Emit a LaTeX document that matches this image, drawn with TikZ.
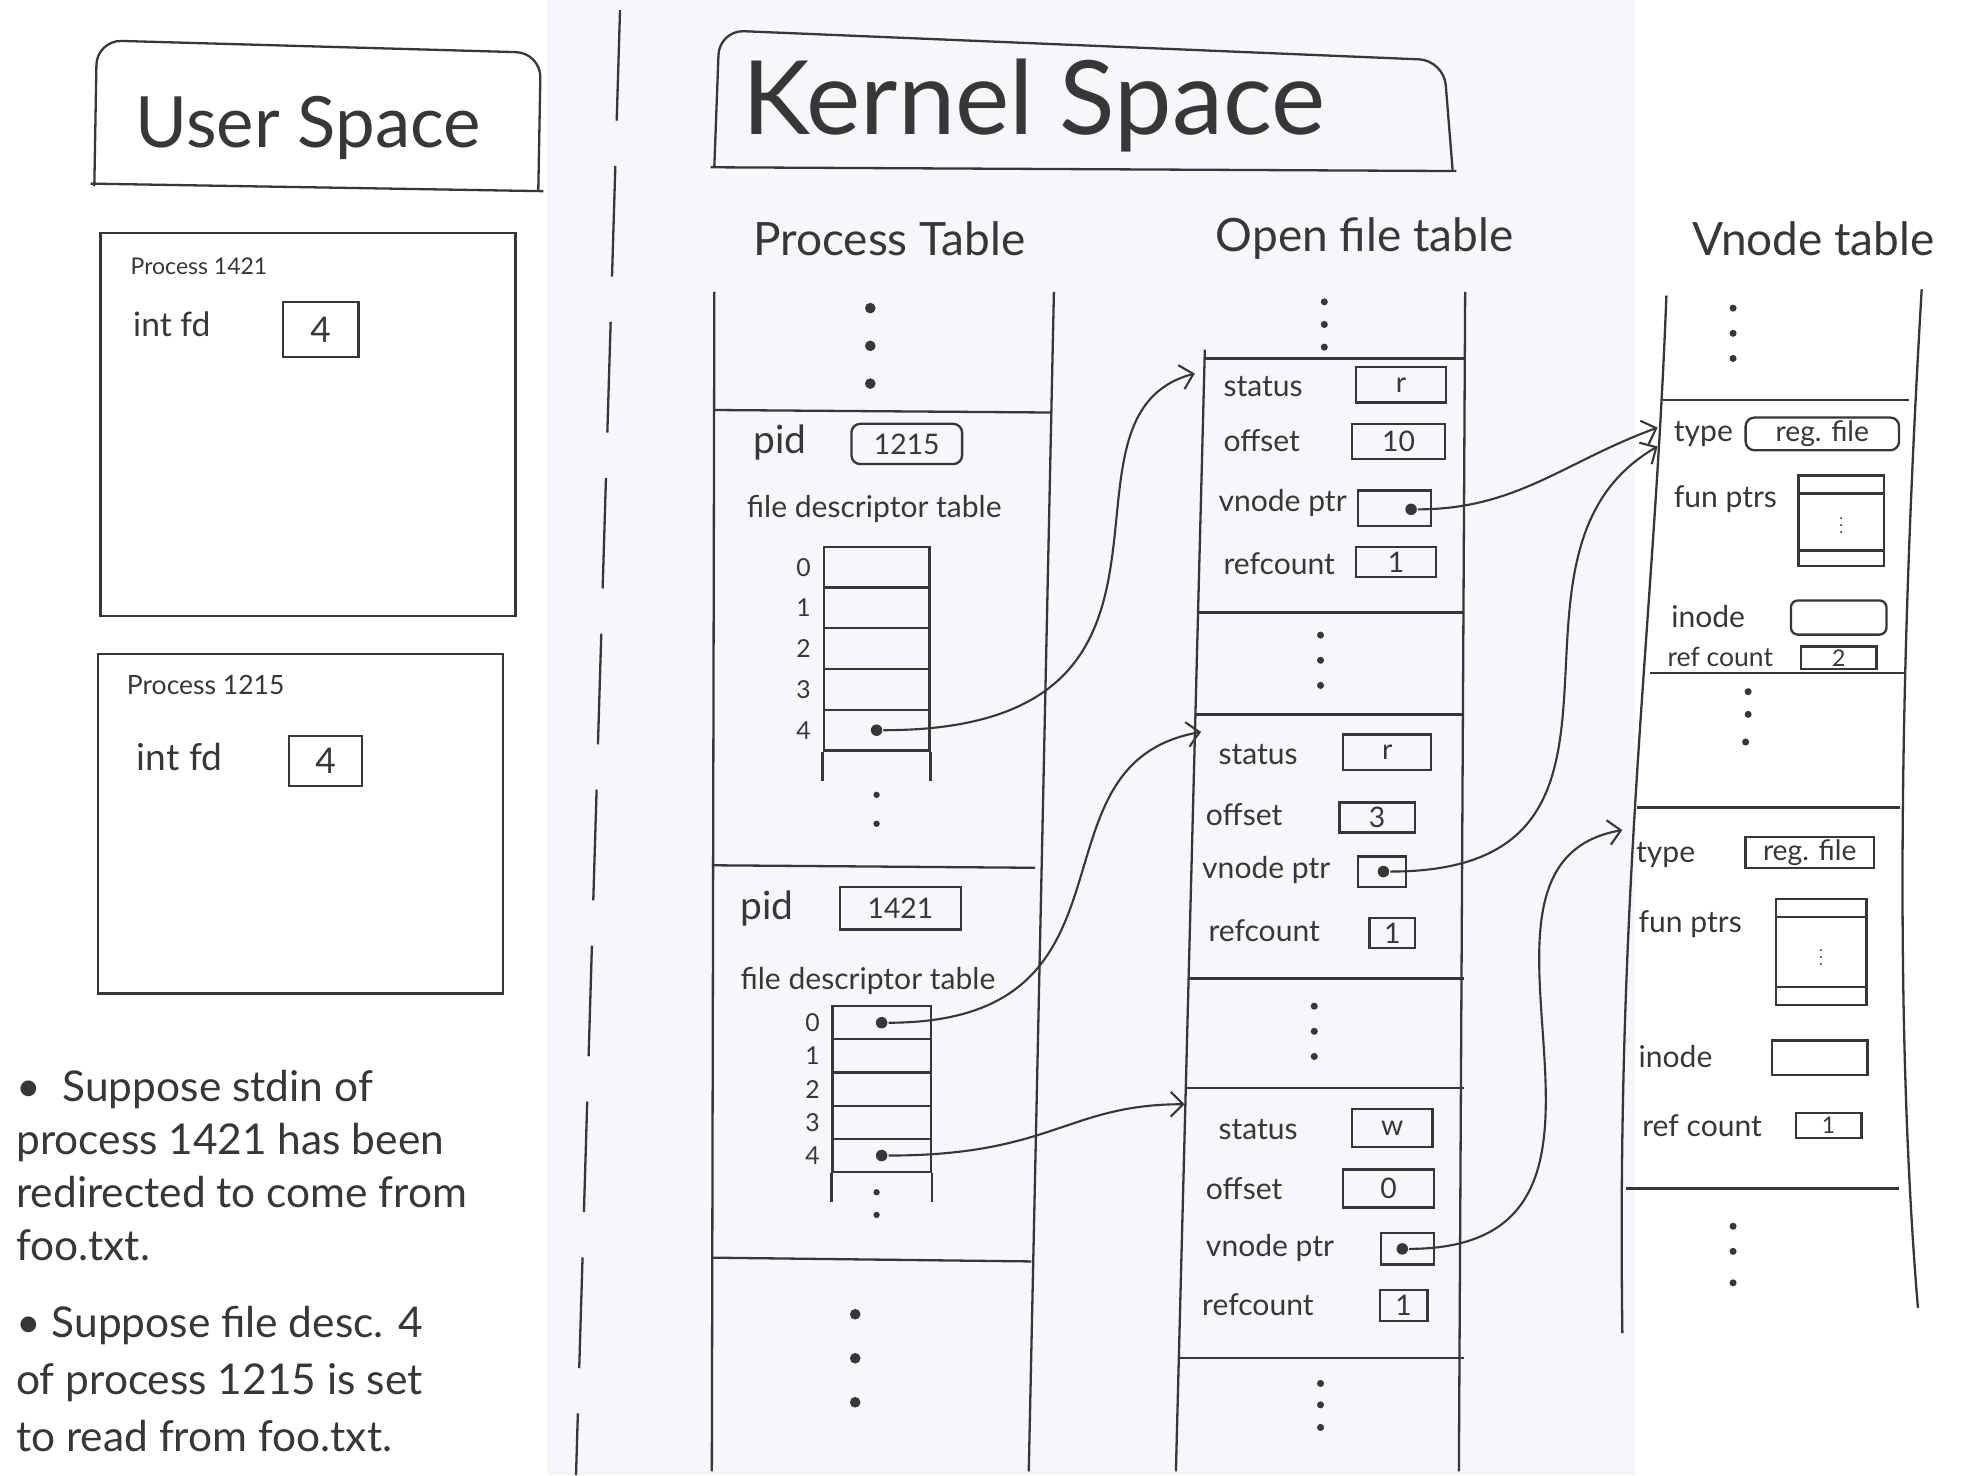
\documentclass[tikz,border=0pt]{standalone}
\usepackage{fontspec}
\setmainfont{Lato}
\usetikzlibrary{positioning,arrows.meta}
\definecolor{ink}{RGB}{55,55,55}
\definecolor{paper}{RGB}{246,247,250}

\begin{document}
\begin{tikzpicture}[x=0.025cm, y=-0.025cm, line width=1.3pt, color=ink,
  >={Straight Barb[length=7pt,width=14pt]},
  lbl/.style={anchor=west, inner sep=0pt, font=\fontsize{17}{20}\selectfont},
  valbox/.style={draw, inner sep=0pt, minimum height=0.7cm, font=\fontsize{16}{18}\selectfont},
  cell/.style={draw, inner sep=0pt},
  dot/.style={circle, fill=ink, inner sep=0pt, minimum size=6.5pt},
  head/.style={font=\fontsize{26}{30}\selectfont},
  title/.style={font=\fontsize{40}{44}\selectfont},
  link/.style={->, line width=1.2pt}]
% Page
\useasboundingbox (0,0) rectangle (1568,1173);
\fill[white] (0,0) rectangle (1568,1173);
\fill[paper] (435,0) rectangle (1300,1173);

% User space
\draw[rounded corners=14pt] (75,148) -- (77,32) -- (430,42) -- (428,152);
\draw (72,146) -- (432,152);
\node[title] (user) at (245,102) {User Space};

\draw (80,185) rectangle (410,490);
\node[lbl, font=\fontsize{13}{15}\selectfont] (u1421) at (103,212) {Process 1421};
\node[lbl, font=\fontsize{19}{22}\selectfont] (u1421fd) at (105,258) {int fd};
\node[valbox, minimum width=1.5cm, minimum height=1.1cm, font=\fontsize{20}{22}\selectfont] (u1421val) at (255,262) {4};

\draw (78,520) rectangle (400,790);
\node[lbl, font=\fontsize{15}{17}\selectfont] (u1215) at (100,545) {Process 1215};
\node[lbl, font=\fontsize{21}{24}\selectfont] (u1215fd) at (108,602) {int fd};
\node[valbox, minimum width=1.45cm, minimum height=1cm, font=\fontsize{20}{22}\selectfont] (u1215val) at (259,605) {4};

% Notes
\node[lbl, anchor=north west, align=left, font=\fontsize{24}{30}\selectfont] (note1) at (12,850)
  {\textbullet\ \ Suppose stdin of\\process 1421 has been\\redirected to come from\\foo.txt.};
\node[lbl, anchor=north west, align=left, font=\fontsize{24}{32}\selectfont] (note2) at (12,1038)
  {\textbullet\ Suppose file desc. 4\\of process 1215 is set\\to read from foo.txt.};

% Divider
\draw[dash pattern=on 2.2cm off 0.9cm] (493,8) -- (458,1173);

% Kernel space
\draw[rounded corners=14pt] (568,132) -- (572,24) -- (1148,48) -- (1155,135);
\draw (565,133) -- (1158,136);
\node[font=\fontsize{58}{64}\selectfont] (kernel) at (822,84) {Kernel Space};

\node[head] (proctab) at (707,190) {Process Table};
\node[head] (opentab) at (1085,190) {Open file table};
\node[head] (vnodetab) at (1442,190) {Vnode table};

% Process table
\draw (568,232) -- (566,1170);
\draw (838,232) -- (818,1170);
\foreach \y in {245,275,305} \fill (692,\y) circle (3pt);
\draw (568,326) -- (836,328);
\draw (566,688) -- (823,690);
\draw (566,1000) -- (820,1003);
\foreach \y in {1045,1080,1115} \fill (680,\y) circle (3pt);

% pid 1215
\node[lbl, font=\fontsize{22}{24}\selectfont] (pid1) at (598,352) {pid};
\node[valbox, rounded corners=5pt, minimum width=2.2cm, minimum height=0.8cm] (pid1val) at (721,353) {1215};
\node[lbl] (fdt1) at (593,405) {file descriptor table};
\foreach \i in {0,...,4} {
  \node[cell, minimum width=2.1cm, minimum height=0.81cm] (fda\i) at (697,451+32.4*\i) {};
  \node[font=\fontsize{14}{16}\selectfont, anchor=east, inner sep=0pt] (fdan\i) at ([xshift=-6pt]fda\i.west) {\i};
}
\draw (fda4.south west) -- ++(0,23);
\draw (fda4.south east) -- ++(0,23);
\foreach \y in {632,655} \fill (697,\y) circle (1.8pt);
\node[dot] (fd1215) at (fda4) {};

% pid 1421
\node[lbl, font=\fontsize{22}{24}\selectfont] (pid2) at (588,722) {pid};
\node[valbox, minimum width=2.4cm, minimum height=0.85cm] (pid2val) at (716,722) {1421};
\node[lbl] (fdt2) at (588,780) {file descriptor table};
\foreach \i in {0,...,4} {
  \node[cell, minimum width=1.95cm, minimum height=0.66cm] (fdb\i) at (701,813.2+26.4*\i) {};
  \node[font=\fontsize{14}{16}\selectfont, anchor=east, inner sep=0pt] (fdbn\i) at ([xshift=-6pt]fdb\i.west) {\i};
}
\draw (fdb4.south west) -- ++(0,23);
\draw (fdb4.south east) -- ++(0,23);
\foreach \y in {948,966} \fill (697,\y) circle (1.8pt);
\node[dot] (fd1421a) at (fdb0) {};
\node[dot] (fd1421b) at (fdb4) {};

% Open file table
\draw (958,278) -- (935,1170);
\draw (1165,232) -- (1160,1170);
\foreach \y in {240,258,276} \fill (1053,\y) circle (2pt);
\foreach \y/\l in {285/958,487/953,568/951,778/945,865/943,1080/937} \draw (\l,\y) -- (1164,\y);
\foreach \y in {505,525,545} \fill (1050,\y) circle (2pt);
\foreach \y in {800,820,840} \fill (1045,\y) circle (2pt);
\foreach \y in {1100,1117,1135} \fill (1050,\y) circle (2pt);

% entry 1
\node[lbl] (st1l) at (972,307) {status};
\node[valbox, minimum width=1.8cm] (st1) at (1114,306) {r};
\node[lbl] (off1l) at (972,350) {offset};
\node[valbox, minimum width=1.85cm] (off1) at (1112,351) {10};
\node[lbl] (vp1l) at (968,400) {vnode ptr};
\node[valbox, minimum width=1.45cm] (vp1) at (1109,404) {};
\node[lbl] (rc1l) at (972,448) {refcount};
\node[valbox, minimum width=1.6cm, minimum height=0.6cm] (rc1) at (1110,447) {1};
\node[dot] (vp1d) at (1122,405) {};

% entry 2
\node[lbl] (st2l) at (968,600) {status};
\node[valbox, minimum width=1.75cm] (st2) at (1103,598) {r};
\node[lbl] (off2l) at (958,648) {offset};
\node[valbox, minimum width=1.5cm, minimum height=0.6cm] (off2) at (1095,650) {3};
\node[lbl] (vp2l) at (955,692) {vnode ptr};
\node[valbox, minimum width=0.95cm, minimum height=0.6cm] (vp2) at (1099,693) {};
\node[lbl] (rc2l) at (960,740) {refcount};
\node[valbox, minimum width=0.9cm, minimum height=0.6cm] (rc2) at (1107,742) {1};
\node[dot] (vp2d) at (1100,693) {};

% entry 3
\node[lbl] (st3l) at (968,898) {status};
\node[valbox, minimum width=1.6cm, minimum height=0.75cm] (st3) at (1107,897) {w};
\node[lbl] (off3l) at (958,945) {offset};
\node[valbox, minimum width=1.8cm, minimum height=0.75cm] (off3) at (1104,945) {0};
\node[lbl] (vp3l) at (958,992) {vnode ptr};
\node[valbox, minimum width=1.05cm, minimum height=0.62cm] (vp3) at (1119,993) {};
\node[lbl] (rc3l) at (955,1037) {refcount};
\node[valbox, minimum width=0.95cm, minimum height=0.62cm] (rc3) at (1116,1038) {1};
\node[dot] (vp3d) at (1115,993) {};

% Vnode table
\draw (1325,235) .. controls (1315,500) and (1285,700) .. (1290,1060);
\draw (1528,230) .. controls (1512,500) and (1505,800) .. (1525,1040);
\foreach \y in {245,265,285} \fill (1378,\y) circle (2pt);
\draw (1322,318) -- (1518,318);
\draw (1312,535) -- (1514,535);
\draw (1302,642) -- (1511,642);
\draw (1293,945) -- (1510,945);
\foreach \x/\y in {1390/550,1390/568,1388/590} \fill (\x,\y) circle (2pt);
\foreach \y in {975,995,1020} \fill (1378,\y) circle (2pt);

% vnode 1
\node[lbl] (ty1l) at (1330,345) {type};
\node[valbox, rounded corners=5pt, minimum width=3.05cm, minimum height=0.65cm] (ty1) at (1449,345) {reg. file};
\node[lbl] (fp1l) at (1330,397) {fun ptrs};
\node[cell, minimum width=1.7cm, minimum height=1.8cm] (fp1) at (1464,414) {};
\draw ([yshift=-0.38cm]fp1.north west) -- ([yshift=-0.38cm]fp1.north east);
\draw ([yshift=0.33cm]fp1.south west) -- ([yshift=0.33cm]fp1.south east);
\node[font=\small] (fp1d) at (fp1) {$\vdots$};
\node[lbl] (in1l) at (1328,490) {inode};
\node[valbox, rounded corners=4pt, minimum width=1.9cm, minimum height=0.68cm] (in1) at (1462,491) {};
\node[lbl, font=\fontsize{15}{17}\selectfont] (rf1l) at (1325,522) {ref count};
\node[valbox, minimum width=1.5cm, minimum height=0.45cm, font=\fontsize{13}{14}\selectfont] (rf1) at (1462,523) {2};

% vnode 2
\node[lbl] (ty2l) at (1300,680) {type};
\node[valbox, minimum width=2.55cm, minimum height=0.62cm] (ty2) at (1439,678) {reg. file};
\node[lbl] (fp2l) at (1302,735) {fun ptrs};
\node[cell, minimum width=1.8cm, minimum height=2.1cm] (fp2) at (1448,757) {};
\draw ([yshift=-0.38cm]fp2.north west) -- ([yshift=-0.38cm]fp2.north east);
\draw ([yshift=0.38cm]fp2.south west) -- ([yshift=0.38cm]fp2.south east);
\node[font=\small] (fp2d) at (fp2) {$\vdots$};
\node[lbl] (in2l) at (1302,840) {inode};
\node[valbox, minimum width=1.9cm, minimum height=0.68cm] (in2) at (1447,841) {};
\node[lbl] (rf2l) at (1305,895) {ref count};
\node[valbox, minimum width=1.3cm, minimum height=0.5cm, font=\fontsize{13}{14}\selectfont] (rf2) at (1454,895) {1};

% Arrow ends
\coordinate (oft1) at (950,297);
\coordinate (oft2) at (955,582);
\coordinate (oft3) at (942,878);
\coordinate (vn1a) at (1318,340);
\coordinate (vn1b) at (1318,355);
\coordinate (vn2) at (1290,660);

% Links
\draw[link] (fd1215) to[out=0, in=195, out looseness=1.9, in looseness=0.9] (oft1);
\draw[link] (fd1421a) to[out=0, in=190, out looseness=1.6, in looseness=1.1] (oft2);
\draw[link] (fd1421b) to[out=0, in=180, out looseness=1.4] (oft3);
\draw[link] (vp1d) to[out=0, in=200] (vn1a);
\draw[link] (vp2d) to[out=0, in=210, out looseness=1.5, in looseness=1.1] (vn1b);
\draw[link] (vp3d) to[out=0, in=190, out looseness=1.5, in looseness=1.1] (vn2);
\end{tikzpicture}
\end{document}
